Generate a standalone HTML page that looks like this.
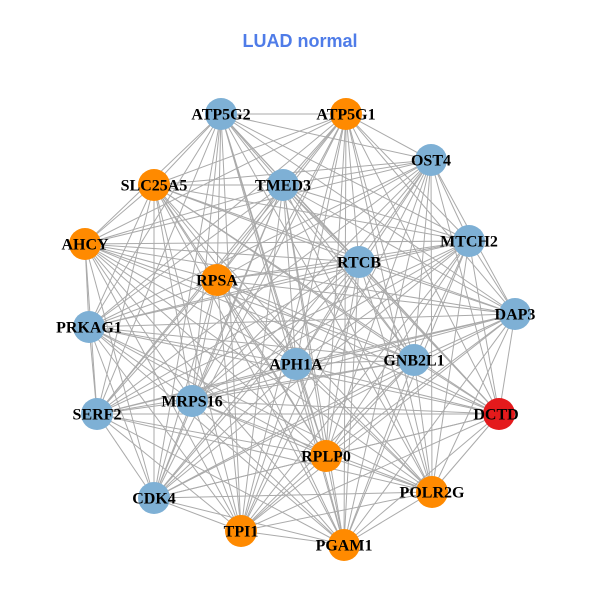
<!DOCTYPE html>
<html><head><meta charset="utf-8"><style>
html,body{margin:0;padding:0;background:#fff;}
svg{display:block;}
.t{font-family:"Liberation Serif",serif;font-weight:bold;font-size:16px;fill:#000;text-anchor:middle;dominant-baseline:central;}
</style></head><body>
<svg id="s" width="600" height="600" viewBox="0 0 600 600" xmlns="http://www.w3.org/2000/svg">
<rect width="600" height="600" fill="#fff"/>
<text x="300" y="41" font-family="Liberation Sans, sans-serif" font-weight="bold" font-size="18" fill="#4f7ce8" text-anchor="middle" dominant-baseline="central">LUAD normal</text>
<g id="e" stroke="#aaaaaa" stroke-width="1"></g>
<g id="n">
<circle cx="221" cy="114" r="16" fill="#7eb0d5"/>
<circle cx="346" cy="114" r="16" fill="#ff8a00"/>
<circle cx="431" cy="160" r="16" fill="#7eb0d5"/>
<circle cx="154" cy="185" r="16" fill="#ff8a00"/>
<circle cx="283" cy="185" r="16" fill="#7eb0d5"/>
<circle cx="85" cy="244" r="16" fill="#ff8a00"/>
<circle cx="469" cy="241" r="16" fill="#7eb0d5"/>
<circle cx="359" cy="262" r="16" fill="#7eb0d5"/>
<circle cx="217" cy="280" r="16" fill="#ff8a00"/>
<circle cx="515" cy="314" r="16" fill="#7eb0d5"/>
<circle cx="89" cy="327" r="16" fill="#7eb0d5"/>
<circle cx="296" cy="364" r="16" fill="#7eb0d5"/>
<circle cx="414" cy="360" r="16" fill="#7eb0d5"/>
<circle cx="192" cy="401" r="16" fill="#7eb0d5"/>
<circle cx="97" cy="414" r="16" fill="#7eb0d5"/>
<circle cx="499" cy="414" r="16" fill="#e41a1c"/>
<circle cx="326" cy="456" r="16" fill="#ff8a00"/>
<circle cx="432" cy="492" r="16" fill="#ff8a00"/>
<circle cx="154" cy="498" r="16" fill="#7eb0d5"/>
<circle cx="241" cy="531" r="16" fill="#ff8a00"/>
<circle cx="344" cy="545" r="16" fill="#ff8a00"/>
</g>
<g>
<text class="t" x="221" y="115">ATP5G2</text>
<text class="t" x="346" y="115">ATP5G1</text>
<text class="t" x="431" y="161">OST4</text>
<text class="t" x="154" y="186">SLC25A5</text>
<text class="t" x="283" y="186">TMED3</text>
<text class="t" x="85" y="245">AHCY</text>
<text class="t" x="469" y="242">MTCH2</text>
<text class="t" x="359" y="263">RTCB</text>
<text class="t" x="217" y="281">RPSA</text>
<text class="t" x="515" y="315">DAP3</text>
<text class="t" x="89" y="328">PRKAG1</text>
<text class="t" x="296" y="365">APH1A</text>
<text class="t" x="414" y="361">GNB2L1</text>
<text class="t" x="192" y="402">MRPS16</text>
<text class="t" x="97" y="415">SERF2</text>
<text class="t" x="496" y="415">DCTD</text>
<text class="t" x="326" y="457">RPLP0</text>
<text class="t" x="432" y="493">POLR2G</text>
<text class="t" x="154" y="499">CDK4</text>
<text class="t" x="241" y="532">TPI1</text>
<text class="t" x="344" y="546">PGAM1</text>
</g>
</svg>
<script>
var p=[[221,114],[346,114],[431,160],[154,185],[283,185],[85,244],[469,241],[359,262],[217,280],[515,314],[89,327],[296,364],[414,360],[192,401],[97,414],[499,414],[326,456],[432,492],[154,498],[241,531],[344,545]];
var g=document.getElementById('e'),ns='http://www.w3.org/2000/svg';
for(var i=0;i<p.length;i++)for(var j=i+1;j<p.length;j++){
var l=document.createElementNS(ns,'line');
l.setAttribute('x1',p[i][0]);l.setAttribute('y1',p[i][1]);
l.setAttribute('x2',p[j][0]);l.setAttribute('y2',p[j][1]);
g.appendChild(l);}
</script>
</body></html>
